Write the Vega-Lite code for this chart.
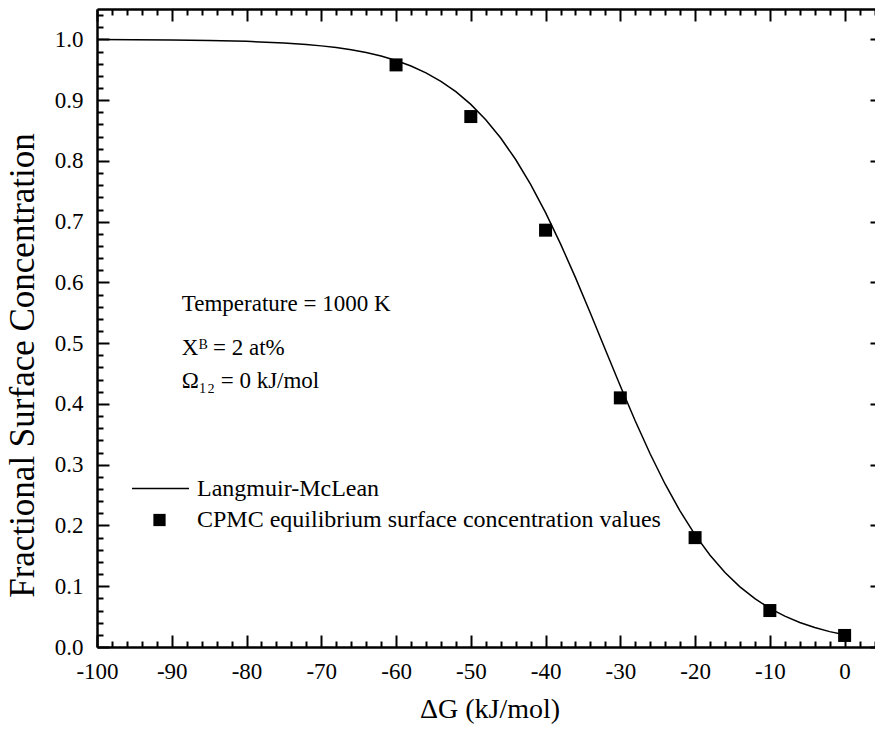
{
  "$schema": "https://vega.github.io/schema/vega-lite/v6.json",
  "autosize": {"type": "none"},
  "padding": {"left": 97, "top": 9, "right": -7, "bottom": 91},
  "width": 785,
  "height": 638,
  "background": "white",
  "config": {
    "font": "Liberation Serif",
    "view": {"stroke": null},
    "axis": {
      "grid": false,
      "domainColor": "black",
      "domainWidth": 2.5,
      "tickColor": "black",
      "tickWidth": 2,
      "labelColor": "black",
      "labelFont": "Liberation Serif",
      "labelFontSize": 23,
      "labelOverlap": false,
      "labelFlush": false,
      "labelBound": false,
      "titleColor": "black",
      "titleFont": "Liberation Serif",
      "titleFontWeight": "normal"
    },
    "legend": {
      "labelFont": "Liberation Serif",
      "labelFontSize": 24,
      "labelColor": "black",
      "labelLimit": 1000,
      "padding": 0
    }
  },
  "datasets": {
    "curve": [
      {"dG": -100, "frac": 0.99971}, {"dG": -95, "frac": 0.99947}, {"dG": -90, "frac": 0.99902},
      {"dG": -85, "frac": 0.99822}, {"dG": -80, "frac": 0.99676}, {"dG": -75, "frac": 0.99411},
      {"dG": -72, "frac": 0.99157}, {"dG": -70, "frac": 0.98931}, {"dG": -68, "frac": 0.98645},
      {"dG": -66, "frac": 0.98284}, {"dG": -64, "frac": 0.97828}, {"dG": -62, "frac": 0.97249},
      {"dG": -60, "frac": 0.96525}, {"dG": -58, "frac": 0.95621}, {"dG": -56, "frac": 0.94499},
      {"dG": -54, "frac": 0.93104}, {"dG": -52, "frac": 0.91392}, {"dG": -50, "frac": 0.89304},
      {"dG": -48, "frac": 0.86776}, {"dG": -46, "frac": 0.83769}, {"dG": -44, "frac": 0.80226},
      {"dG": -42, "frac": 0.76134}, {"dG": -40, "frac": 0.71494}, {"dG": -38, "frac": 0.66348},
      {"dG": -36, "frac": 0.60784}, {"dG": -34, "frac": 0.54919}, {"dG": -32, "frac": 0.48935},
      {"dG": -30, "frac": 0.42962}, {"dG": -28, "frac": 0.37186}, {"dG": -26, "frac": 0.31764},
      {"dG": -24, "frac": 0.26789}, {"dG": -22, "frac": 0.22343}, {"dG": -20, "frac": 0.18448},
      {"dG": -18, "frac": 0.15102}, {"dG": -16, "frac": 0.12266}, {"dG": -14, "frac": 0.09902},
      {"dG": -12, "frac": 0.07955}, {"dG": -10, "frac": 0.06363}, {"dG": -8, "frac": 0.05071},
      {"dG": -6, "frac": 0.04031}, {"dG": -4, "frac": 0.03197}, {"dG": -2, "frac": 0.0253},
      {"dG": 0, "frac": 0.02}
    ],
    "cpmc": [
      {"dG": -60, "frac": 0.958}, {"dG": -50, "frac": 0.873}, {"dG": -40, "frac": 0.686},
      {"dG": -30, "frac": 0.41}, {"dG": -20, "frac": 0.18}, {"dG": -10, "frac": 0.06},
      {"dG": 0, "frac": 0.019}
    ],
    "notes": [
      {"dG": -88.66, "frac": 0.5523, "note": "Temperature = 1000 K"},
      {"dG": -88.66, "frac": 0.481, "note": "Xᴮ = 2 at%"},
      {"dG": -88.66, "frac": 0.4268, "note": "Ω₁₂ = 0 kJ/mol"}
    ]
  },
  "resolve": {"axis": {"x": "independent", "y": "independent"}},
  "layer": [
    {
      "data": {"name": "curve"},
      "mark": {"type": "line", "color": "black", "strokeWidth": 1.5},
      "encoding": {
        "x": {
          "field": "dG", "type": "quantitative",
          "scale": {"domain": [-100, 5], "nice": false, "zero": false},
          "axis": {
            "orient": "bottom",
            "title": "ΔG (kJ/mol)",
            "titleFontSize": 28,
            "titlePadding": 6,
            "values": [-100,-98,-96,-94,-92,-90,-88,-86,-84,-82,-80,-78,-76,-74,-72,-70,-68,-66,-64,-62,-60,-58,-56,-54,-52,-50,-48,-46,-44,-42,-40,-38,-36,-34,-32,-30,-28,-26,-24,-22,-20,-18,-16,-14,-12,-10,-8,-6,-4,-2,0,2,4],
            "tickSize": {"condition": {"test": "abs(round(datum.value)) % 10 === 0", "value": -12}, "value": -6},
            "labelExpr": "abs(round(datum.value)) % 10 === 0 ? '' + datum.value : ''",
            "labelPadding": 25
          }
        },
        "y": {
          "field": "frac", "type": "quantitative",
          "scale": {"domain": [0, 1.05], "nice": false, "zero": false},
          "axis": {
            "orient": "left",
            "title": "Fractional Surface Concentration",
            "titleFontSize": 35,
            "titlePadding": 14,
            "titleY": 356,
            "format": ".1f",
            "values": [0,0.02,0.04,0.06,0.08,0.1,0.12,0.14,0.16,0.18,0.2,0.22,0.24,0.26,0.28,0.3,0.32,0.34,0.36,0.38,0.4,0.42,0.44,0.46,0.48,0.5,0.52,0.54,0.56,0.58,0.6,0.62,0.64,0.66,0.68,0.7,0.72,0.74,0.76,0.78,0.8,0.82,0.84,0.86,0.88,0.9,0.92,0.94,0.96,0.98,1.0,1.02,1.04],
            "tickSize": {"condition": {"test": "round(datum.value * 50) % 5 === 0", "value": -12}, "value": -6},
            "labelExpr": "round(datum.value * 50) % 5 === 0 ? datum.label : ''",
            "labelPadding": 26
          }
        },
        "color": {
          "datum": "Langmuir-McLean",
          "scale": {"range": ["black"]},
          "legend": {
            "title": null,
            "orient": "none",
            "legendX": 34,
            "legendY": 450,
            "symbolType": "stroke",
            "symbolSize": 3249,
            "symbolStrokeWidth": 1.5,
            "labelOffset": 7
          }
        }
      }
    },
    {
      "data": {"name": "cpmc"},
      "mark": {"type": "point", "filled": true, "color": "black", "opacity": 1, "size": 169},
      "encoding": {
        "x": {
          "field": "dG", "type": "quantitative",
          "axis": {
            "orient": "top",
            "title": null,
            "labels": false,
            "values": [-100,-98,-96,-94,-92,-90,-88,-86,-84,-82,-80,-78,-76,-74,-72,-70,-68,-66,-64,-62,-60,-58,-56,-54,-52,-50,-48,-46,-44,-42,-40,-38,-36,-34,-32,-30,-28,-26,-24,-22,-20,-18,-16,-14,-12,-10,-8,-6,-4,-2,0,2,4],
            "tickSize": {"condition": {"test": "abs(round(datum.value)) % 10 === 0", "value": -12}, "value": -6}
          }
        },
        "y": {
          "field": "frac", "type": "quantitative",
          "axis": {
            "orient": "right",
            "title": null,
            "labels": false,
            "values": [0,0.1,0.2,0.3,0.4,0.5,0.6,0.7,0.8,0.9,1.0],
            "tickSize": -12
          }
        },
        "shape": {
          "datum": "CPMC equilibrium surface concentration values",
          "scale": {"range": ["square"]},
          "legend": {
            "title": null,
            "orient": "none",
            "legendX": 50.5,
            "legendY": 499,
            "symbolSize": 150,
            "symbolFillColor": "black",
            "labelOffset": 25.5
          }
        }
      }
    },
    {
      "data": {"name": "notes"},
      "mark": {"type": "text", "align": "left", "baseline": "alphabetic", "fontSize": 23, "font": "Liberation Serif", "color": "black"},
      "encoding": {
        "x": {"field": "dG", "type": "quantitative", "axis": null},
        "y": {"field": "frac", "type": "quantitative", "axis": null},
        "text": {"field": "note"}
      }
    }
  ]
}
